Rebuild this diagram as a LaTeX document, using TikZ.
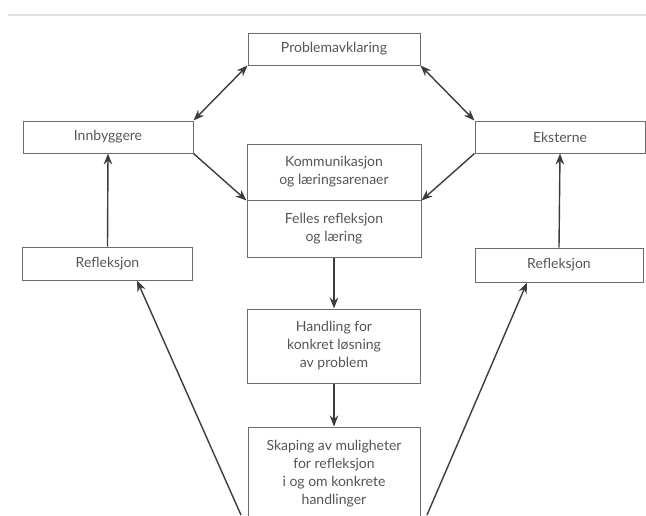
\documentclass[tikz,border=0pt]{standalone}
\usepackage{fontspec}
\setmainfont{Lato}
\usetikzlibrary{arrows.meta}
\definecolor{linegray}{HTML}{3C3C3C}
\definecolor{textgray}{HTML}{555555}
\tikzset{
	box/.style={draw=linegray!75,line width=1pt,rectangle,align=center,text=textgray,
		font=\fontsize{14}{18}\selectfont,inner sep=2pt},
	flow/.style={draw=linegray,line width=1.4pt,-{Stealth[length=11pt,width=8.5pt]}},
	twoway/.style={draw=linegray,line width=1.4pt,{Stealth[length=11pt,width=8.5pt]}-{Stealth[length=11pt,width=8.5pt]}}
}
\begin{document}
\begin{tikzpicture}[x=1pt,y=-1pt]
	\useasboundingbox (0,0) rectangle (646,515);
	\draw[black!12,line width=2pt] (8,15) -- (646,15);

	\node[box,minimum width=172pt,minimum height=32pt] (prob) at (334,49) {Problemavklaring};
	\node[box,minimum width=170pt,minimum height=32pt] (innb) at (108,137) {Innbyggere};
	\node[box,minimum width=170pt,minimum height=32pt] (ekst) at (560,137) {Eksterne};
	\node[box,minimum width=174pt,minimum height=56pt] (komm) at (334,172) {Kommunikasjon\\og læringsarenaer};
	\node[box,minimum width=174pt,minimum height=57pt] (fell) at (334,228.5) {Felles refleksjon\\og læring};
	\node[box,minimum width=173pt,minimum height=74pt] (hand) at (334,346) {Handling for\\konkret løsning\\av problem};
	\node[box,minimum width=172pt,minimum height=94pt] (skap) at (334,474) {Skaping av muligheter\\for refleksjon\\i og om konkrete\\handlinger};
	\node[box,minimum width=170pt,minimum height=33pt] (refv) at (107.5,263.5) {Refleksjon};
	\node[box,minimum width=168pt,minimum height=34pt] (refh) at (559,265) {Refleksjon};
	\coordinate (skapv) at (241,515);
	\coordinate (skaph) at (427,515);

	\draw[twoway] (innb.north east) -- (prob.south west);
	\draw[twoway] (prob.south east) -- (ekst.north west);
	\draw[flow] (innb.south east) -- (komm.south west);
	\draw[flow] (ekst.south west) -- (komm.south east);
	\draw[flow] (fell.south) -- (hand.north);
	\draw[flow] (hand.south) -- (skap.north);
	\draw[flow] (refv.north) -- (innb.south);
	\draw[flow] (refh.north) -- (ekst.south);
	\draw[flow] (skapv) -- (refv.south east -| 137,0);
	\draw[flow] (skaph) -- (refh.south west -| 527,0);
\end{tikzpicture}
\end{document}
